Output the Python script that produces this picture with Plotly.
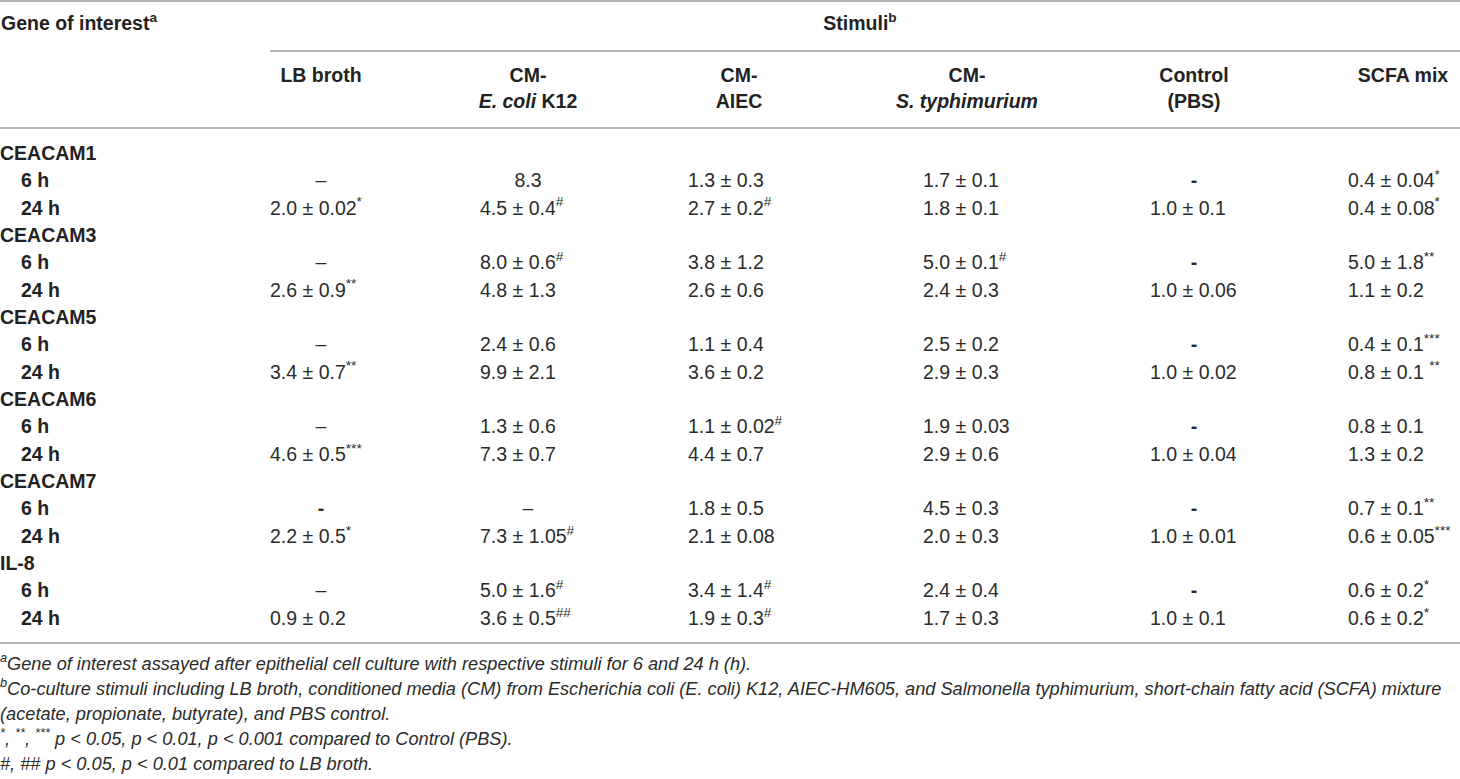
"""Gene expression fold changes per stimulus, drawn as a plain table."""

import plotly.graph_objects as go

# ---- data -------------------------------------------------------------
genes = ["CEACAM1", "CEACAM3", "CEACAM5", "CEACAM6", "CEACAM7", "IL-8"]
timepoints = ["6 h", "24 h"]

stimuli = [
    ["LB broth"],
    ["CM-", "<i>E. coli</i> K12"],
    ["CM-", "AIEC"],
    ["CM-", "<i>S. typhimurium</i>"],
    ["Control", "(PBS)"],
    ["SCFA mix"],
]

# one entry per gene x timepoint (6 h, 24 h, 6 h, 24 h, ...)
lb_broth = ["–", "2.0 ± 0.02<sup>*</sup>", "–", "2.6 ± 0.9<sup>**</sup>",
            "–", "3.4 ± 0.7<sup>**</sup>", "–", "4.6 ± 0.5<sup>***</sup>",
            "<b>-</b>", "2.2 ± 0.5<sup>*</sup>", "–", "0.9 ± 0.2"]
cm_ecoli = ["8.3", "4.5 ± 0.4<sup>#</sup>", "8.0 ± 0.6<sup>#</sup>", "4.8 ± 1.3",
            "2.4 ± 0.6", "9.9 ± 2.1", "1.3 ± 0.6", "7.3 ± 0.7",
            "–", "7.3 ± 1.05<sup>#</sup>", "5.0 ± 1.6<sup>#</sup>",
            "3.6 ± 0.5<sup>##</sup>"]
cm_aiec = ["1.3 ± 0.3", "2.7 ± 0.2<sup>#</sup>", "3.8 ± 1.2", "2.6 ± 0.6",
           "1.1 ± 0.4", "3.6 ± 0.2", "1.1 ± 0.02<sup>#</sup>", "4.4 ± 0.7",
           "1.8 ± 0.5", "2.1 ± 0.08", "3.4 ± 1.4<sup>#</sup>",
           "1.9 ± 0.3<sup>#</sup>"]
cm_styph = ["1.7 ± 0.1", "1.8 ± 0.1", "5.0 ± 0.1<sup>#</sup>", "2.4 ± 0.3",
            "2.5 ± 0.2", "2.9 ± 0.3", "1.9 ± 0.03", "2.9 ± 0.6",
            "4.5 ± 0.3", "2.0 ± 0.3", "2.4 ± 0.4", "1.7 ± 0.3"]
control_pbs = ["<b>-</b>", "1.0 ± 0.1", "<b>-</b>", "1.0 ± 0.06",
               "<b>-</b>", "1.0 ± 0.02", "<b>-</b>", "1.0 ± 0.04",
               "<b>-</b>", "1.0 ± 0.01", "<b>-</b>", "1.0 ± 0.1"]
scfa_mix = ["0.4 ± 0.04<sup>*</sup>", "0.4 ± 0.08<sup>*</sup>",
            "5.0 ± 1.8<sup>**</sup>", "1.1 ± 0.2",
            "0.4 ± 0.1<sup>***</sup>", "0.8 ± 0.1 <sup>**</sup>",
            "0.8 ± 0.1", "1.3 ± 0.2",
            "0.7 ± 0.1<sup>**</sup>", "0.6 ± 0.05<sup>***</sup>",
            "0.6 ± 0.2<sup>*</sup>", "0.6 ± 0.2<sup>*</sup>"]
columns = [lb_broth, cm_ecoli, cm_aiec, cm_styph, control_pbs, scfa_mix]

footnotes = [
    "<sup>a</sup>Gene of interest assayed after epithelial cell culture with "
    "respective stimuli for 6 and 24 h (h).",
    "<sup>b</sup>Co-culture stimuli including LB broth, conditioned media (CM) "
    "from Escherichia coli (E. coli) K12, AIEC-HM605, and Salmonella "
    "typhimurium, short-chain fatty acid (SCFA) mixture",
    "(acetate, propionate, butyrate), and PBS control.",
    "<sup>*</sup>, <sup>**</sup>, <sup>***</sup> p &lt; 0.05, p &lt; 0.01, "
    "p &lt; 0.001 compared to Control (PBS).",
    "#, ## p &lt; 0.05, p &lt; 0.01 compared to LB broth.",
]

# ---- layout -----------------------------------------------------------
W, H = 1460, 779
FONT = "Liberation Sans, Arial, Helvetica, sans-serif"
INK = "#222222"
VAL_INK = "#2b2b2b"
RULE = "#9a9a9a"
BODY = 19.5

col_left = [270, 480, 688, 923, 1150, 1348]     # left edge of values
col_mid = [321, 528, 739, 967, 1194, 1403]      # centre of headers / dashes
row_top, row_step = 155, 27.35
head_y = [77, 103]
foot_top, foot_step = 665, 25

fig = go.Figure()

# header
hx = [1, 860]
hy = [25, 25]
ht = ["<b>Gene of interest<sup>a</sup></b>", "<b>Stimuli<sup>b</sup></b>"]
hp = ["middle right", "middle center"]
for c, lines in enumerate(stimuli):
    for k, line in enumerate(lines):
        hx.append(col_mid[c])
        hy.append(head_y[k])
        ht.append(f"<b>{line}</b>")
        hp.append("middle center")
fig.add_trace(go.Scatter(x=hx, y=hy, text=ht, mode="text", textposition=hp,
                         textfont=dict(size=BODY, color=INK, family=FONT),
                         hoverinfo="skip", showlegend=False))

# row labels
lx, ly, lt = [], [], []
r = 0
for g in genes:
    lx.append(0)
    ly.append(row_top + r * row_step)
    lt.append(f"<b>{g}</b>")
    r += 1
    for t in timepoints:
        lx.append(21)
        ly.append(row_top + r * row_step)
        lt.append(f"<b>{t}</b>")
        r += 1
fig.add_trace(go.Scatter(x=lx, y=ly, text=lt, mode="text",
                         textposition="middle right",
                         textfont=dict(size=BODY, color=INK, family=FONT),
                         hoverinfo="skip", showlegend=False))

# cell values: numbers left-aligned in their column, dashes centred
for c, vals in enumerate(columns):
    cx, cy, cp = [], [], []
    for i, v in enumerate(vals):
        g, t = divmod(i, 2)
        cy.append(row_top + (g * 3 + 1 + t) * row_step)
        if "±" in v:
            cx.append(col_left[c])
            cp.append("middle right")
        else:
            cx.append(col_mid[c])
            cp.append("middle center")
    fig.add_trace(go.Scatter(x=cx, y=cy, text=vals, mode="text",
                             textposition=cp,
                             textfont=dict(size=BODY, color=VAL_INK, family=FONT),
                             hoverinfo="skip", showlegend=False))

# footnotes
fig.add_trace(go.Scatter(
    x=[0] * len(footnotes),
    y=[foot_top + k * foot_step for k in range(len(footnotes))],
    text=[f"<i>{f}</i>" for f in footnotes], mode="text",
    textposition="middle right",
    textfont=dict(size=18.2, color=VAL_INK, family=FONT),
    hoverinfo="skip", showlegend=False))

# rules
for y0, x0 in [(1, 0), (51, 270), (128, 0), (643, 0)]:
    fig.add_shape(type="line", x0=x0, x1=W, y0=y0, y1=y0, xref="x", yref="y",
                  line=dict(color=RULE, width=1.6))

fig.update_layout(
    width=W, height=H,
    margin=dict(l=0, r=0, t=0, b=0),
    paper_bgcolor="white", plot_bgcolor="white",
    xaxis=dict(range=[0, W], visible=False, fixedrange=True),
    yaxis=dict(range=[H, 0], visible=False, fixedrange=True),
)

# the page body has an 8px default margin; drop it so the figure sits at 0,0
fig.write_html("out.html",
               config={"displayModeBar": False},
               post_script="document.body.style.margin = '0px';")
